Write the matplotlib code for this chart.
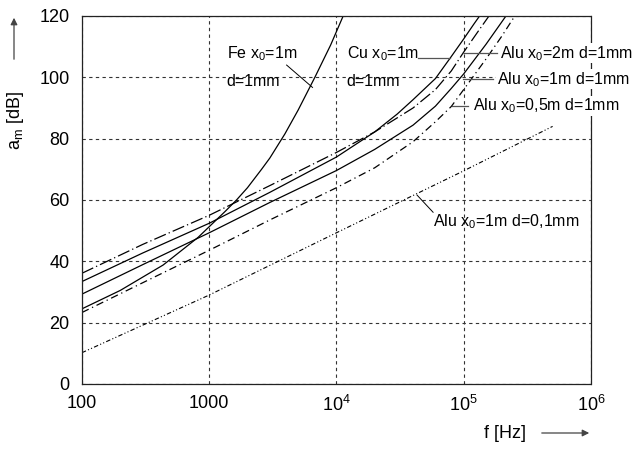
import matplotlib.pyplot as plt
import numpy as np

plt.rcParams['font.family'] = ['Liberation Sans', 'DejaVu Sans']
plt.rcParams['mathtext.fontset'] = 'custom'
plt.rcParams['mathtext.rm'] = 'Liberation Sans'
plt.rcParams['mathtext.it'] = 'Liberation Sans'

# Shielding attenuation a_m [dB], per material / distance
f_alu_2m = [100, 300, 1000, 3000, 1e4, 2e4, 4e4, 6e4, 8e4, 1e5, 1.3e5, 1.6e5]
a_alu_2m = [36.1, 45.5, 55.0, 64.7, 75.5, 82.2, 90.0, 96.0, 102.1, 108.2, 115.0, 120.3]

f_cu_1m = [100, 300, 1000, 3000, 1e4, 2e4, 3e4, 4e4, 6e4, 8e4, 1e5, 1.2e5, 1.35e5]
a_cu_1m = [33.4, 42.7, 52.4, 62.5, 74.0, 82.2, 88.0, 92.7, 99.6, 106.8, 112.5, 117.3, 120.3]

f_alu_1m = [100, 300, 1000, 3000, 1e4, 2e4, 4e4, 6e4, 8e4, 1e5, 1.5e5, 2.15e5]
a_alu_1m = [29.3, 38.9, 49.3, 59.2, 69.6, 76.5, 84.4, 90.6, 96.4, 101.1, 110.8, 120.0]

f_alu_05m = [100, 300, 1000, 3000, 1e4, 2e4, 4e4, 6e4, 8e4, 1e5, 1.5e5, 2e5, 2.55e5]
a_alu_05m = [23.3, 33.0, 43.6, 53.5, 64.0, 70.5, 79.0, 85.5, 90.5, 96.0, 106.0, 113.5, 120.3]

f_alu_thin = [100, 1000, 1e4, 1e5, 5e5]
a_alu_thin = [10.2, 29.0, 49.3, 69.5, 84.0]

f_fe_1m = [100, 200, 435, 818, 1330, 1640, 2000, 2580, 3000, 3930, 5000, 6770, 9000, 11300]
a_fe_1m = [24.5, 30.5, 38.8, 47.8, 56.2, 60.0, 64.0, 70.0, 73.7, 81.5, 89.3, 100.0, 110.5, 120.0]

xticks = [100, 1000, 1e4, 1e5, 1e6]
xticklabels = ['100', '1000', r'$10^4$', r'$10^5$', r'$10^6$']
yticks = [0, 20, 40, 60, 80, 100, 120]

fig = plt.figure(figsize=(6.4, 4.49), dpi=100)
ax = fig.add_axes([0.128, 0.1448, 0.7953, 0.8196])

lw = 0.9
ax.plot(f_alu_2m, a_alu_2m, color='black', lw=lw, linestyle=(0, (10, 2.5, 1, 2.5)))
ax.plot(f_cu_1m, a_cu_1m, color='black', lw=lw)
ax.plot(f_alu_1m, a_alu_1m, color='black', lw=lw)
ax.plot(f_alu_05m, a_alu_05m, color='black', lw=lw, linestyle=(0, (6, 3, 1, 3)))
ax.plot(f_alu_thin, a_alu_thin, color='black', lw=0.8, linestyle=(0, (4, 2, 1, 2, 1, 2)))
ax.plot(f_fe_1m, a_fe_1m, color='black', lw=lw)

ax.set_xscale('log')
ax.set_xlim(100, 1e6)
ax.set_ylim(0, 120)
ax.set_xticks(xticks)
ax.set_xticklabels(xticklabels)
ax.set_yticks(yticks)
ax.minorticks_off()
ax.tick_params(axis='both', length=0, labelsize=13)
ax.tick_params(axis='y', pad=9)
ax.tick_params(axis='x', pad=8)
ax.grid(True, color='#333333', lw=0.8, linestyle=(0, (3, 3)))
for s in ax.spines.values():
    s.set_linestyle((0, (5, 1)))
    s.set_linewidth(0.9)
    s.set_color('#222222')

# curve labels with leader lines
fs = 11.5
box = dict(facecolor='white', edgecolor='none', pad=0.5)
ax.text(1377, 107.6, r'Fe x$_0$=1m', fontsize=fs, va='center')
ax.text(1377, 98.6, 'd=1mm', fontsize=fs, va='center')
ax.plot([4060, 6490], [104, 96.7], color='black', lw=0.7)

ax.text(12080, 107.6, r'Cu x$_0$=1m', fontsize=fs, va='center')
ax.text(12080, 98.6, 'd=1mm', fontsize=fs, va='center')
ax.plot([43500, 77800], [106.2, 106.2], color='#555555', lw=0.9)

ax.text(191700, 107.8, r'Alu x$_0$=2m d=1mm', fontsize=fs, va='center', bbox=box, zorder=5)
ax.plot([98400, 182000], [107.8, 107.8], color='#555555', lw=0.9, clip_on=False)

ax.text(182000, 99.3, r'Alu x$_0$=1m d=1mm', fontsize=fs, va='center', bbox=box, zorder=5)
ax.plot([98400, 170000], [99.3, 99.3], color='#555555', lw=0.9, clip_on=False)

ax.text(117800, 90.6, r'Alu x$_0$=0,5m d=1mm', fontsize=fs, va='center', bbox=box, zorder=5)
ax.plot([80700, 107600], [90.6, 90.6], color='#555555', lw=0.9)

ax.text(57500, 52.8, r'Alu x$_0$=1m d=0,1mm', fontsize=fs, va='center')
ax.plot([43000, 57500], [61.6, 56], color='black', lw=0.7)

# axis titles with arrows
ax.text(-0.13, 0.715, r'a$_\mathrm{m}$ [dB]', transform=ax.transAxes, rotation=90,
        fontsize=13, ha='center', va='center')
ax.annotate('', xy=(14, 449 - 15), xytext=(14, 449 - 62), xycoords='figure pixels',
            textcoords='figure pixels',
            arrowprops=dict(arrowstyle='-|>', color='#444444', lw=0.9, mutation_scale=10))
ax.text(0.831, -0.135, 'f [Hz]', transform=ax.transAxes, fontsize=13,
        ha='center', va='center')
ax.annotate('', xy=(592, 449 - 433), xytext=(539, 449 - 433), xycoords='figure pixels',
            textcoords='figure pixels',
            arrowprops=dict(arrowstyle='-|>', color='#444444', lw=0.9, mutation_scale=10))

fig.savefig('out.png', dpi=100)
